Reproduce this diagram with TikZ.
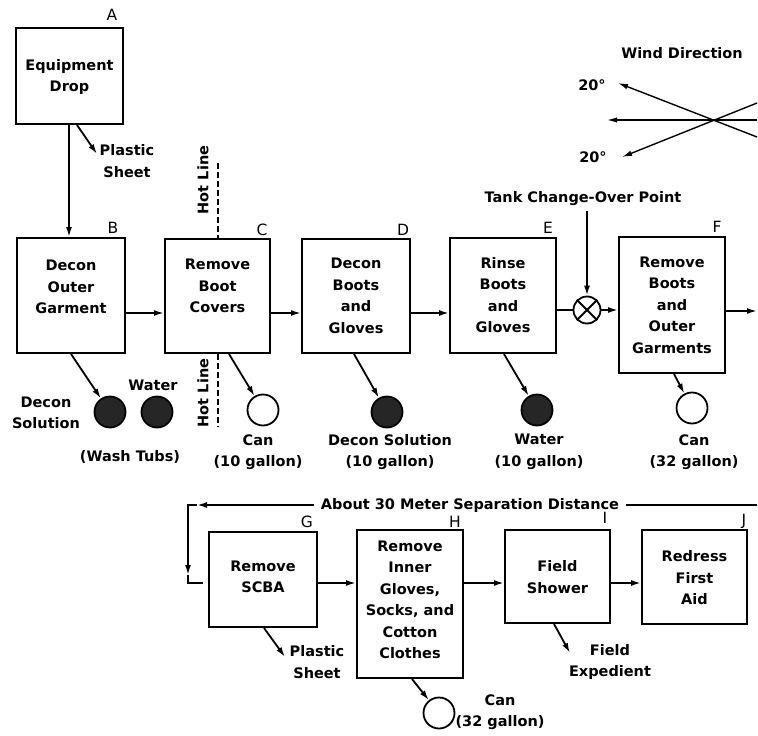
\documentclass[tikz,border=0pt]{standalone}
\usepackage{fontspec}
\setmainfont{DejaVu Sans}
\usetikzlibrary{arrows.meta,calc}
\begin{document}
\begin{tikzpicture}[x=1pt,y=-1pt,
  box/.style={draw, line width=2pt, rectangle, inner sep=0pt},
  txt/.style={font=\bfseries\fontsize{14.5}{21.5}\selectfont, align=center, inner sep=0pt},
  lett/.style={font=\fontsize{15.5}{18}\selectfont, inner sep=0pt},
  arr/.style={line width=1.8pt, -{Latex[length=10pt,width=6pt]}},
  warr/.style={line width=1.4pt, -{Latex[length=10pt,width=5.5pt]}},
  ln/.style={line width=1.8pt},
  tub/.style={circle, draw, line width=1.8pt, minimum size=31pt, inner sep=0pt},
  full/.style={tub, fill=black!85},
  hot/.style={line width=1.6pt, dash pattern=on 6pt off 3pt},
]
\useasboundingbox (0,0) rectangle (758,736);

% ---- boxes ----
\node[box, minimum width=107pt, minimum height=96pt]  (A) at (69.5,76) {};
\node[box, minimum width=108pt, minimum height=115pt] (B) at (71,295.5) {};
\node[box, minimum width=105pt, minimum height=114pt] (C) at (217.5,296) {};
\node[box, minimum width=108pt, minimum height=114pt] (D) at (356,296) {};
\node[box, minimum width=106pt, minimum height=115pt] (E) at (503,295.5) {};
\node[box, minimum width=106pt, minimum height=136pt] (F) at (672,305) {};
\node[box, minimum width=108pt, minimum height=95pt]  (G) at (263,579.5) {};
\node[box, minimum width=106pt, minimum height=148pt] (H) at (410,604) {};
\node[box, minimum width=105pt, minimum height=93pt]  (I) at (557.5,576.5) {};
\node[box, minimum width=105pt, minimum height=94pt]  (J) at (694.5,577) {};

% ---- box texts ----
\node[txt] (At) at (69.5,77) {Equipment\\Drop};
\node[txt] (Bt) at (71,287) {Decon\\Outer\\Garment};
\node[txt] (Ct) at (217.5,286) {Remove\\Boot\\Covers};
\node[txt] (Dt) at (356,296) {Decon\\Boots\\and\\Gloves};
\node[txt] (Et) at (503,295) {Rinse\\Boots\\and\\Gloves};
\node[txt] (Ft) at (672,305) {Remove\\Boots\\and\\Outer\\Garments};
\node[txt] (Gt) at (263,577) {Remove\\SCBA};
\node[txt] (Ht) at (410,600) {Remove\\Inner\\Gloves,\\Socks, and\\Cotton\\Clothes};
\node[txt] (It) at (557.5,577) {Field\\Shower};
\node[txt] (Jt) at (694.5,578) {Redress\\First\\Aid};

% ---- letters ----
\node[lett] (lA) at (112,15) {A};
\node[lett] (lB) at (113,228) {B};
\node[lett] (lC) at (262,230) {C};
\node[lett] (lD) at (403,230) {D};
\node[lett] (lE) at (548,228) {E};
\node[lett] (lF) at (717,227) {F};
\node[lett] (lG) at (307,522) {G};
\node[lett] (lH) at (455,522) {H};
\node[lett] (lI) at (605,518) {I};
\node[lett] (lJ) at (744,521) {J};

% ---- row 1 connectors ----
\coordinate (r1) at (0,313);
\draw[arr] (A.south -| 69,0) -- (B.north -| 69,0);
\draw[arr] (B.east |- r1) -- (C.west |- r1);
\draw[arr] (C.east |- r1) -- (D.west |- r1);
\draw[arr] (D.east |- r1) -- (E.west |- r1);
\node[circle, draw, line width=1.8pt, minimum size=27pt, inner sep=0pt] (X) at (587,310) {};
\draw[ln] (X.45) -- (X.225) (X.135) -- (X.315);
\draw[ln] (E.east |- X) -- (X.west);
\draw[arr] (X.east) -- (F.west |- X);
\coordinate (Fout) at (757,311);
\draw[arr] (F.east |- Fout) -- (Fout);
\node[txt] (tank) at (583,199) {Tank Change-Over Point};
\draw[arr] ($(X.north |- tank.south)+(0,5)$) -- (X.north);

% ---- plastic sheet at A ----
\coordinate (pA) at (97,154);
\draw[arr] ($(A.south west)+(62,0)$) -- (pA);
\node[txt] (pAt) at (127,161) {Plastic\\Sheet};

% ---- hot line ----
\coordinate (hl1) at (218,163);
\coordinate (hl2) at (218,427);
\draw[hot] (hl1) -- (hl1 |- C.north);
\draw[hot] (hl2 |- C.south) -- (hl2);
\node[txt, rotate=90] (hot1) at (203,180) {Hot Line};
\node[txt, rotate=90] (hot2) at (203,393) {Hot Line};

% ---- tubs and cans ----
\node[full] (c1) at (110,412) {};
\node[full] (c2) at (157,412) {};
\node[tub]  (c3) at (263,410) {};
\node[full] (c4) at (387,412) {};
\node[full] (c5) at (537,410) {};
\node[tub]  (c6) at (692,408) {};
\node[tub]  (c7) at (439,713) {};
\draw[arr] ($(B.south west)+(55,0)$) -- (c1);
\draw[arr] ($(C.south west)+(65,0)$) -- (c3);
\draw[arr] ($(D.south west)+(53,0)$) -- (c4);
\draw[arr] ($(E.south west)+(55,0)$) -- (c5);
\draw[arr] ($(F.south west)+(56,0)$) -- (c6);
\draw[arr] ($(H.south west)+(56,0)$) -- (c7);

\node[txt] (c1t) at (46,413) {Decon\\Solution};
\node[txt] (c2t) at (153,385) {Water};
\node[txt] (wash) at (130,457) {(Wash Tubs)};
\node[txt] (c3t) at (258,452) {Can\\(10 gallon)};
\node[txt] (c4t) at (390,452) {Decon Solution\\(10 gallon)};
\node[txt] (c5t) at (539,452) {Water\\(10 gallon)};
\node[txt] (c6t) at (694,452) {Can\\(32 gallon)};
\node[txt] (c7t) at (500,712) {Can\\(32 gallon)};

% ---- separation ----
\node[txt, inner xsep=7pt] (sep) at (470,505) {About 30 Meter Separation Distance};
\coordinate (s1) at (197,505);
\coordinate (s2) at (188,505);
\coordinate (s3) at (188,575);
\coordinate (s4) at (188,583);
\coordinate (s5) at (203,583);
\coordinate (sR) at (757,505);
\draw[ln] (sep.east) -- (sR);
\draw[arr] (sep.west) -- (s1);
\draw[arr] (s1) -- (s2) -- (s3);
\draw[ln] (s3) -- (s4) -- (s5);

% ---- row 2 connectors ----
\coordinate (r2) at (0,583);
\draw[arr] (G.east |- r2) -- (H.west |- r2);
\draw[arr] (H.east |- r2) -- (I.west |- r2);
\draw[arr] (I.east |- r2) -- (J.west |- r2);

\coordinate (pG) at (285,657);
\draw[arr] ($(G.south west)+(56,0)$) -- (pG);
\node[txt] (pGt) at (317,662) {Plastic\\Sheet};
\coordinate (pI) at (570,653);
\draw[arr] ($(I.south west)+(50,0)$) -- (pI);
\node[txt] (pIt) at (610,662) {Field\\Expedient};

% ---- wind direction ----
\node[txt] (wind) at (682,53) {Wind Direction};
\coordinate (wu) at (618,83);
\coordinate (wm) at (607,120);
\coordinate (wl) at (622,157);
\coordinate (eu) at (757,137);
\coordinate (em) at (757,120);
\coordinate (el) at (757,103);
\draw[warr] (eu) -- (wu);
\draw[warr] (em) -- (wm);
\draw[warr] (el) -- (wl);
\node[txt] (d1) at (592,85) {20°};
\node[txt] (d2) at (593,157) {20°};
\end{tikzpicture}
\end{document}
